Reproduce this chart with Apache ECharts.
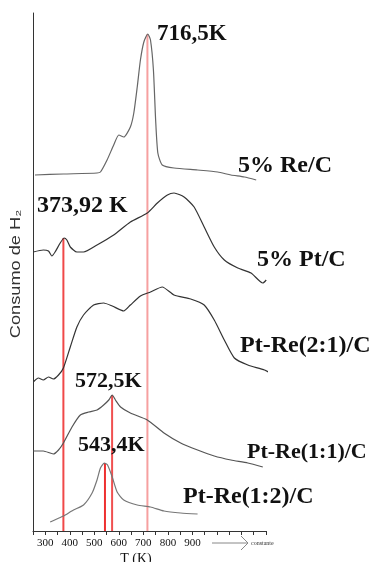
<!DOCTYPE html>
<html>
<head>
<meta charset="utf-8">
<script src="https://cdn.jsdelivr.net/npm/echarts@6/dist/echarts.min.js"></script>
<style>
  html, body { margin: 0; padding: 0; background: #fff; }
  #chart { width: 374px; height: 562px; }
</style>
</head>
<body>
<div id="chart"></div>
<script>
// TPR curves (T in K, signal in arbitrary stacked units)
const reT = [258, 374, 511, 525, 552, 579, 600, 620, 647, 661, 675, 688, 702, 718, 729, 741, 750, 759, 777, 825, 921, 1003, 1057, 1112, 1160];
const reV = [356, 357, 358, 359, 371, 386, 396, 394, 404, 418, 444, 471, 489, 497, 491, 461, 411, 378, 366, 363, 361, 359, 356, 354, 351];

const ptT = [251, 292, 313, 327, 340, 361, 377, 388, 402, 429, 456, 511, 579, 647, 716, 757, 798, 825, 866, 907, 948, 989, 1030, 1085, 1139, 1187, 1201];
const ptV = [279, 281, 280, 275, 279, 288, 293, 291, 284, 279, 279, 286, 296, 309, 318, 328, 336, 338, 334, 324, 304, 284, 271, 263, 258, 248, 251];

const pr21T = [251, 272, 292, 313, 333, 354, 374, 402, 429, 456, 497, 538, 573, 620, 647, 688, 729, 777, 825, 893, 948, 989, 1030, 1071, 1126, 1194, 1262, 1290];
const pr21V = [149, 153, 151, 154, 152, 156, 163, 184, 204, 216, 226, 228, 225, 220, 226, 235, 239, 244, 236, 232, 226, 211, 191, 173, 166, 161, 153, 159];

const pr11T = [251, 292, 333, 354, 374, 409, 443, 477, 511, 538, 559, 573, 586, 607, 647, 716, 784, 852, 921, 989, 1057, 1126, 1187];
const pr11V = [80, 80, 77, 81, 88, 104, 116, 119, 121, 126, 131, 136, 131, 124, 118, 111, 98, 88, 81, 75, 71, 68, 64];

const pr12T = [320, 347, 374, 415, 456, 491, 511, 525, 541, 554, 573, 593, 620, 675, 729, 784, 852, 921];
const pr12V = [9, 12, 15, 21, 26, 38, 51, 63, 68, 66, 54, 39, 31, 26, 24, 20, 18, 17];

// peak markers (red verticals)
const peakT = [373.92, 543.4, 572.5, 716.5];
const peakTop = [293, 68, 136, 497];
const peakText = ['373,92 K', '543,4K', '572,5K', '716,5K'];

const sampleNames = ['5% Re/C', '5% Pt/C', 'Pt-Re(2:1)/C', 'Pt-Re(1:1)/C', 'Pt-Re(1:2)/C'];
const tickLabels = [300, 400, 500, 600, 700, 800, 900];

const zip = (xs, ys) => xs.map((x, i) => [x, ys[i]]);

const curves = [
  { data: zip(reT, reV), color: '#666' },
  { data: zip(ptT, ptV), color: '#333' },
  { data: zip(pr21T, pr21V), color: '#333' },
  { data: zip(pr11T, pr11V), color: '#555' },
  { data: zip(pr12T, pr12V), color: '#777' }
];

const peakColors = ['#f04848', '#ee3030', '#f05050', '#f6a0a0'];

const series = curves.map((c, i) => ({
  name: sampleNames[i],
  type: 'line',
  data: c.data,
  smooth: 0.2,
  symbol: 'none',
  clip: false,
  z: 3,
  lineStyle: { color: c.color, width: 1.2 }
}));

peakT.forEach((t, i) => {
  series.push({
    type: 'line',
    data: [[t, 0], [t, peakTop[i]]],
    symbol: 'none',
    z: 2,
    lineStyle: { color: peakColors[i], width: 2 }
  });
});

const boldSerif = px => 'bold ' + px + 'px "Liberation Serif", "Times New Roman", serif';

// label positions (pixels)
const textMarks = [
  { text: peakText[3], x: 157, y: 34, size: 23 },
  { text: sampleNames[0], x: 238, y: 166, size: 24 },
  { text: peakText[0], x: 37, y: 206, size: 24 },
  { text: sampleNames[1], x: 257, y: 260, size: 24 },
  { text: sampleNames[2], x: 240, y: 346, size: 24 },
  { text: peakText[2], x: 75, y: 381, size: 22 },
  { text: peakText[1], x: 78, y: 445, size: 22 },
  { text: sampleNames[3], x: 247, y: 452, size: 22 },
  { text: sampleNames[4], x: 183, y: 497, size: 24 }
];

const graphic = textMarks.map(m => ({
  type: 'text',
  x: m.x,
  y: m.y,
  z: 10,
  style: { text: m.text, font: boldSerif(m.size), fill: '#111', align: 'left', verticalAlign: 'middle' }
}));

graphic.push(
  {
    type: 'text', x: 16, y: 274, rotation: Math.PI / 2, scaleX: 1.3,
    style: { text: 'Consumo de H₂', font: '14px "Liberation Sans", Arial, sans-serif', fill: '#333', align: 'center', verticalAlign: 'middle' }
  },
  {
    type: 'text', x: 136, y: 552,
    style: { text: 'T (K)', font: '14px "Liberation Serif", serif', fill: '#111', align: 'center', verticalAlign: 'top' }
  },
  { type: 'polyline', shape: { points: [[212, 543], [247, 543]] }, style: { stroke: '#888', lineWidth: 1 } },
  { type: 'polyline', shape: { points: [[241, 536], [248, 543], [241, 550]] }, style: { stroke: '#888', lineWidth: 1, fill: null } },
  {
    type: 'text', x: 251, y: 543,
    style: { text: 'constante', font: '6px "Liberation Serif", serif', fill: '#333', align: 'left', verticalAlign: 'middle' }
  }
);

const chart = echarts.init(document.getElementById('chart'));
chart.setOption({
  animation: false,
  grid: { left: 33, right: 108, top: 13, bottom: 31 },
  xAxis: {
    type: 'value',
    min: 250,
    max: 1200,
    interval: 50,
    splitLine: { show: false },
    axisLine: { lineStyle: { color: '#333', width: 1 } },
    axisTick: { length: 4, lineStyle: { color: '#333' } },
    axisLabel: {
      margin: 7,
      fontSize: 11,
      fontFamily: '"Liberation Serif", serif',
      color: '#111',
      formatter: v => (tickLabels.indexOf(v) >= 0 ? String(v) : '')
    }
  },
  yAxis: {
    type: 'value',
    min: 0,
    max: 518,
    splitLine: { show: false },
    axisTick: { show: false },
    axisLabel: { show: false },
    axisLine: { show: true, lineStyle: { color: '#333', width: 1 } }
  },
  graphic: graphic,
  series: series
});
</script>
</body>
</html>
